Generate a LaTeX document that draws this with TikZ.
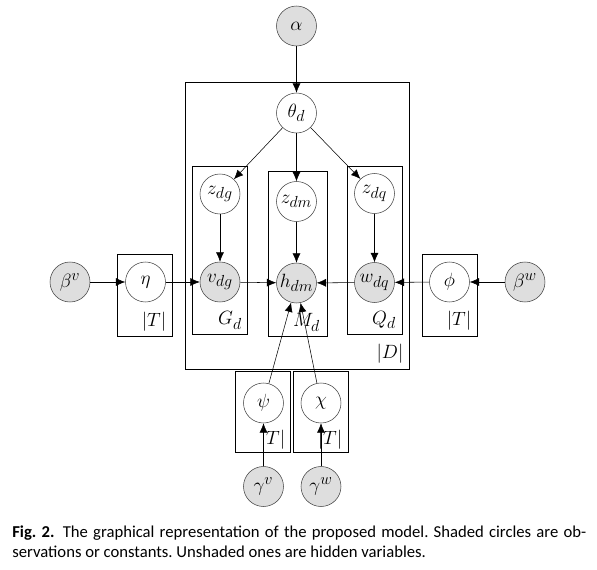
\documentclass[tikz,border=0pt]{standalone}
\usepackage{fontspec}
\newfontfamily\capfont{Carlito}
\DeclareMathSizes{14.4}{14.4}{11.5}{9}
\usetikzlibrary{arrows.meta}
\tikzset{
  latent/.style={circle,draw=black!75,minimum size=30pt,inner sep=0pt,font=\Large},
  obs/.style={latent,fill=black!13},
  plate/.style={draw,line width=0.6pt},
  platelabel/.style={font=\Large,inner sep=0pt},
}
\begin{document}
\begin{tikzpicture}[x=0.75pt,y=-0.75pt,>={Latex[length=7pt,width=6pt]}]
      \useasboundingbox (0,0) rectangle (597,570);
      \draw[plate] (185.5,82.5) rectangle (409.5,369.5);
      \draw[plate] (192.5,166.5) rectangle (247.5,334);
      \draw[plate] (268,171.5) rectangle (327.5,336);
      \draw[plate] (347.5,166.5) rectangle (402.5,334);
      \draw[plate] (117.5,254.5) rectangle (172.5,336);
      \draw[plate] (422.5,254.5) rectangle (477.5,336);
      \draw[plate] (235.5,371.5) rectangle (290,452.5);
      \draw[plate] (293.5,371.5) rectangle (348.5,452.5);
      \draw
        (296.5,26) node[obs] (alpha){$\alpha$}
        (296.5,113) node[latent] (theta){$\theta_d$}
        (220,194) node[latent] (zdg){$z_{dg}$}
        (296.5,201.5) node[latent] (zdm){$z_{dm}$}
        (374.5,193.5) node[latent] (zdq){$z_{dq}$}
        (70,282) node[obs] (betav){$\beta^v$}
        (145.5,282) node[latent] (eta){$\eta$}
        (220,282) node[obs] (vdg){$v_{dg}$}
        (296.5,283) node[obs] (hdm){$h_{dm}$}
        (374.5,282.5) node[obs] (wdq){$w_{dq}$}
        (449.5,282) node[latent] (phi){$\phi$}
        (525,282) node[obs] (betaw){$\beta^w$}
        (263.5,403) node[latent] (psi){$\psi$}
        (321,403) node[latent] (chi){$\chi$}
        (263.5,486.5) node[obs] (gammav){$\gamma^v$}
        (321,486.5) node[obs] (gammaw){$\gamma^w$};
      \draw
        (154,322) node[platelabel] (Teta){$|T|$}
        (459,321) node[platelabel] (Tphi){$|T|$}
        (230,320.5) node[platelabel] (Gd){$G_d$}
        (306.5,322.5) node[platelabel] (Md){$M_d$}
        (384,320) node[platelabel] (Qd){$Q_d$}
        (390,354) node[platelabel] (Dd){$|D|$}
        (273,440) node[platelabel] (Tpsi){$|T|$}
        (330,440) node[platelabel] (Tchi){$|T|$};
      \begin{scope}[->]
        \draw (alpha) to (theta);
        \draw (theta) to (zdg);
        \draw (theta) to (zdm);
        \draw (theta) to (zdq);
        \draw (zdg) to (vdg);
        \draw (zdm) to (hdm);
        \draw (zdq) to (wdq);
        \draw (betav) to (eta);
        \draw (eta) to (vdg);
        \draw (vdg) to (hdm);
        \draw (betaw) to (phi);
        \draw (phi) to (wdq);
        \draw (wdq) to (hdm);
        \draw (psi) to (hdm);
        \draw (chi) to (hdm);
        \draw (gammav) to (psi);
        \draw (gammaw) to (chi);
      \end{scope}
      \node[anchor=base west,text width=430.5pt,align=justify,inner sep=0pt,
        font=\capfont\fontsize{12.5}{15}\selectfont\frenchspacing] (caption) at (12,538)
        {\textbf{Fig.~2.}\enskip The graphical representation of the proposed model. Shaded circles are ob-\linebreak servations or constants. Unshaded ones are hidden variables.};
    \end{tikzpicture}
\end{document}
